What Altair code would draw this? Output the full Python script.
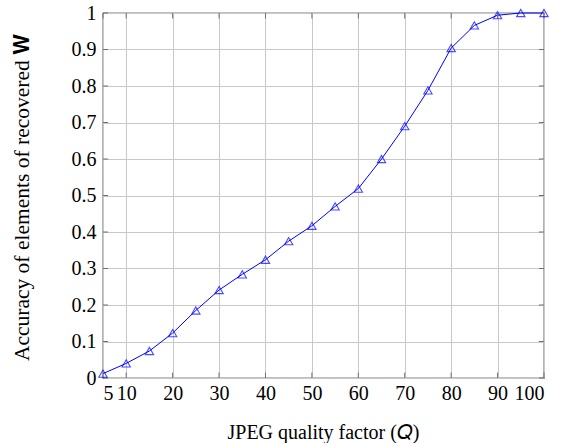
import altair as alt
import pandas as pd

q = [5, 10, 15, 20, 25, 30, 35, 40, 45, 50, 55, 60, 65, 70, 75, 80, 85, 90, 95, 100]
acc = [0.012, 0.040, 0.074, 0.123, 0.185, 0.241, 0.284, 0.324, 0.375, 0.417,
       0.470, 0.519, 0.600, 0.690, 0.788, 0.904, 0.966, 0.994, 1.000, 1.000]
x_ticks = [5, 10, 20, 30, 40, 50, 60, 70, 80, 90, 100]
y_ticks = [0, 0.1, 0.2, 0.3, 0.4, 0.5, 0.6, 0.7, 0.8, 0.9, 1]

df = pd.DataFrame({"q": q, "acc": acc})
FONT = "Liberation Serif"
FS = 20
TFS = 20

xs = alt.Scale(domain=[5, 100], nice=False, zero=False)
ys = alt.Scale(domain=[0, 1], nice=False)

xaxis = alt.Axis(values=x_ticks, title="JPEG quality factor (𝑄)",
                 titleX=220, titleY=54, titleAlign="center", titleBaseline="middle",
                 labelPadding=5)
yaxis = alt.Axis(values=y_ticks, title="Accuracy of elements of recovered 𝐖",
                 labelExpr="datum.value == 0 ? '0' : datum.value == 1 ? '1' : format(datum.value, '.1f')",
                 titleX=-81, titleY=184, titleAlign="center", titleBaseline="middle",
                 titleAngle=270, titleFontSize=21.5, labelPadding=7)

base = alt.Chart(df)
line = base.mark_line(color="#0000ff", strokeWidth=1).encode(
    x=alt.X("q:Q", scale=xs, axis=xaxis),
    y=alt.Y("acc:Q", scale=ys, axis=yaxis),
)
pts = base.mark_point(shape="triangle-up", filled=False, color="#0000ff",
                      size=70, strokeWidth=1.1).encode(
    x=alt.X("q:Q", scale=xs, axis=xaxis), y=alt.Y("acc:Q", scale=ys, axis=yaxis))

# inward ticks
tick_len_y = 0.015
tick_len_x = 1.1
xt = pd.DataFrame({"v": x_ticks})
yt = pd.DataFrame({"v": y_ticks})
tcol = "#707070"
bt = alt.Chart(xt).mark_rule(color=tcol, strokeWidth=1).encode(
    x=alt.X("v:Q", scale=xs, axis=xaxis),
    y=alt.YDatum(0, type="quantitative", scale=ys, axis=yaxis),
    y2=alt.Y2Datum(tick_len_y))
tt = alt.Chart(xt).mark_rule(color=tcol, strokeWidth=1).encode(
    x=alt.X("v:Q", scale=xs, axis=xaxis),
    y=alt.YDatum(1, type="quantitative", scale=ys, axis=yaxis),
    y2=alt.Y2Datum(1 - tick_len_y))
lt = alt.Chart(yt).mark_rule(color=tcol, strokeWidth=1).encode(
    y=alt.Y("v:Q", scale=ys, axis=yaxis),
    x=alt.XDatum(5, type="quantitative", scale=xs, axis=xaxis),
    x2=alt.X2Datum(5 + tick_len_x))
rt = alt.Chart(yt).mark_rule(color=tcol, strokeWidth=1).encode(
    y=alt.Y("v:Q", scale=ys, axis=yaxis),
    x=alt.XDatum(100, type="quantitative", scale=xs, axis=xaxis),
    x2=alt.X2Datum(100 - tick_len_x))

chart = alt.layer(line, bt, tt, lt, rt, pts).properties(
    width=441, height=365,
    padding={"left": 103, "top": 13, "right": 31, "bottom": 65},
    autosize=alt.AutoSizeParams(type="none"),
).configure_view(stroke="black", strokeWidth=1.2).configure_axis(
    labelFont=FONT, labelFontSize=FS, labelColor="black", labelOverlap=False,
    titleFont=FONT, titleFontSize=TFS, titleFontWeight="normal", titleColor="black",
    grid=True, gridColor="#c8c8c8", gridWidth=1, ticks=False, domain=False,
)

chart.save("out.html", embed_options={"renderer": "svg", "actions": False})
